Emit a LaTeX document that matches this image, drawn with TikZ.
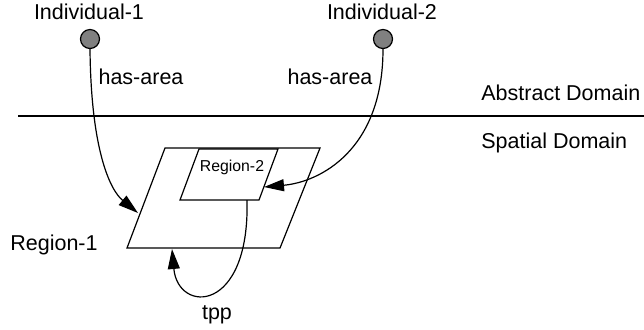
\documentclass[tikz,border=0pt]{standalone}
\usepackage{fontspec}
\setmainfont{Liberation Sans}
\usepackage{xcolor}
\usetikzlibrary{arrows.meta}
\definecolor{dotgray}{RGB}{128,128,128}

\begin{document}
\begin{tikzpicture}[x=0.5pt,y=0.5pt]
        \tikzset{every node/.style={inner sep=0pt},
                 txt/.style={font=\fontsize{10.75pt}{13pt}\selectfont},
                 dot/.style={circle, draw=black, fill=dotgray, line width=0.6pt, minimum size=9.5pt},
                 rel/.style={black, line width=0.6pt, -{Triangle[length=10pt,width=6pt]}}}
        \useasboundingbox (0,0) rectangle (644,-329);
        % individuals
        \node [txt] (lab1) at (89,-12) {Individual-1};
        \node [txt] (lab2) at (382,-12) {Individual-2};
        \node [dot] (ind1) at (90,-39) {};
        \node [dot] (ind2) at (383,-39) {};
        % domains
        \draw [black, line width=0.6pt] (18,-116) -- (644,-116);
        \node [txt, anchor=west] (abs) at (481,-93) {Abstract Domain};
        \node [txt, anchor=west] (spa) at (481,-143) {Spatial Domain};
        % regions
        \draw [black, line width=0.6pt] (165,-148) -- (320,-148) -- (280,-248) -- (127,-248) -- cycle;
        \draw [black, line width=0.6pt] (199,-149) -- (278,-149) -- (259,-200) -- (180,-200) -- cycle;
        \node [txt] (reg1) at (54,-245) {Region-1};
        \node [font=\fontsize{7.9pt}{9pt}\selectfont] (reg2) at (232,-167) {Region-2};
        \coordinate (r1west) at (138,-213);
        \coordinate (r2east) at (264,-187);
        \coordinate (r2south) at (247,-200);
        \coordinate (r1south) at (172,-249);
        % relations
        \draw [rel] (ind1.south) .. controls (91,-150) and (110,-190) .. (r1west);
        \draw [rel] (ind2.south) .. controls (383,-150) and (320,-182) .. (r2east);
        \draw [rel] (r2south) .. controls (250,-314) and (178,-314) .. (r1south);
        \node [txt] (has1) at (141,-77) {has-area};
        \node [txt] (has2) at (330,-77) {has-area};
        \node [txt, anchor=base] (tpp) at (217,-319) {tpp};
\end{tikzpicture}
\end{document}
